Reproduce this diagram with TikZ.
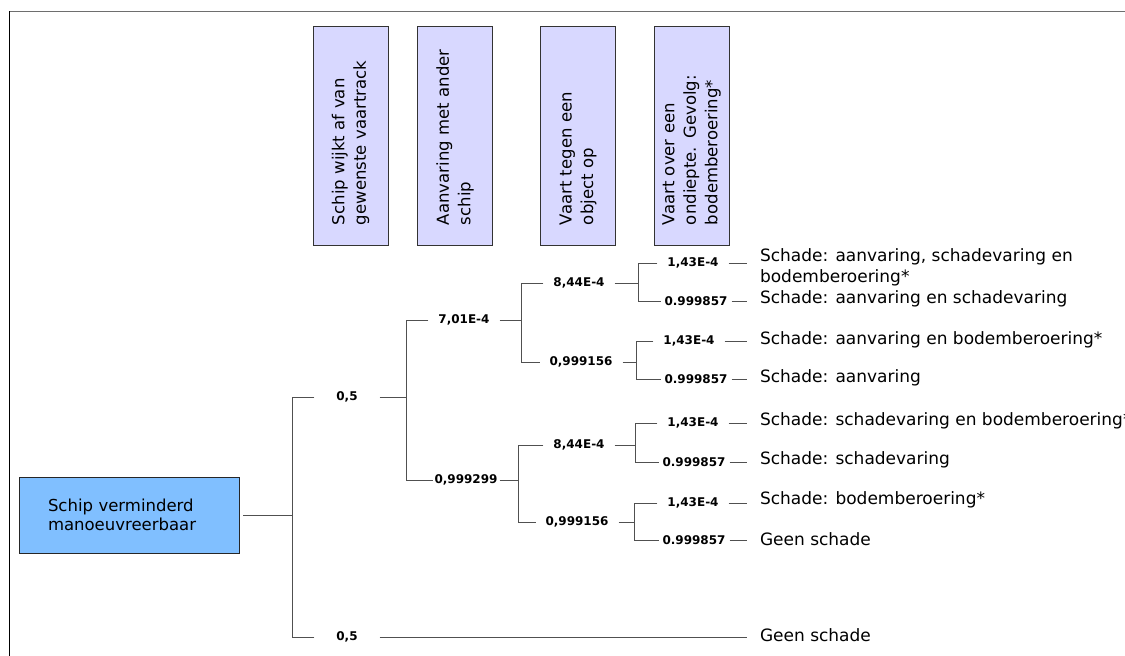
\documentclass[tikz,border=0pt]{standalone}
\usepackage{fontspec}
\setmainfont{DejaVu Sans}
\usepackage{tikz}
\usetikzlibrary{positioning,calc}
\definecolor{hdrLavender}{RGB}{216,216,255}
\definecolor{rootBlue}{RGB}{128,191,255}
\definecolor{treeGray}{RGB}{80,80,80}
\definecolor{frameGray}{RGB}{110,110,110}

\begin{document}
\begin{tikzpicture}[x=1pt, y=-1pt,
    every node/.style={inner sep=3pt, outer sep=0pt},
    hdr/.style={draw=black!80, fill=hdrLavender, rotate=90, align=left,
      font=\fontsize{16.5}{21.5}\selectfont, text width=179pt, inner xsep=20pt,
      minimum height=75pt},
    prob/.style={font=\fontsize{12}{14}\selectfont\bfseries, inner xsep=10pt},
    leaf/.style={font=\fontsize{17}{21}\selectfont, anchor=west, align=left,
      inner xsep=13pt},
    br/.style={treeGray, line width=1pt}
  ]
    \useasboundingbox (0,0) rectangle (1125,656);
    % frame
    \draw[frameGray, line width=1.5pt] (9,11.5) -- (1125,11.5);
    \draw[black, line width=1.2pt] (9.5,11) -- (9.5,656);
    % column headers
    \node[hdr] (h1) at (350.5,135.5) {Schip wijkt af van\\gewenste vaartrack};
    \node[hdr] (h2) at (455,135.5) {Aanvaring met ander\\schip};
    \node[hdr] (h3) at (578,135.5) {Vaart tegen een\\object op};
    \node[hdr] (h4) at (691.5,135.5) {Vaart over een\\ondiepte. Gevolg:\\bodemberoering*};
    % start event
    \node[draw=black!85, fill=rootBlue, minimum width=220pt, minimum height=76pt,
      text width=162pt, inner xsep=29pt, align=left,
      font=\fontsize{16.5}{19}\selectfont] (root) at (129,515) {Schip verminderd\\manoeuvreerbaar};
    % branch points
    \coordinate (s1) at (292,515);
    \coordinate (s2) at (406,397);
    \coordinate (s3) at (521,320);
    \coordinate (s4) at (638,283);
    \coordinate (s5) at (636,362);
    \coordinate (s6) at (518,480);
    \coordinate (s7) at (635,445);
    \coordinate (s8) at (634,522);
    % probabilities
    \node[prob, inner xsep=22pt] (a1) at (347,397) {0,5};
    \node[prob, inner xsep=22pt] (a2) at (347,637) {0,5};
    \node[prob] (b1) at (464,320) {7,01E-4};
    \node[prob, inner xsep=2pt] (b2) at (466,480) {0,999299};
    \node[prob] (c1) at (579,283) {8,44E-4};
    \node[prob] (c2) at (581,362) {0,999156};
    \node[prob] (c3) at (579,445) {8,44E-4};
    \node[prob] (c4) at (577,522) {0,999156};
    \node[prob] (d1) at (693,263) {1,43E-4};
    \node[prob, inner xsep=4pt] (d2) at (696,301) {0.999857};
    \node[prob] (d3) at (689,341) {1,43E-4};
    \node[prob, inner xsep=4pt] (d4) at (696,379) {0.999857};
    \node[prob] (d5) at (693,423) {1,43E-4};
    \node[prob, inner xsep=4pt] (d6) at (694,462) {0.999857};
    \node[prob] (d7) at (693,503) {1,43E-4};
    \node[prob, inner xsep=4pt] (d8) at (694,540) {0.999857};
    % outcomes
    \node[leaf, anchor=north west] (o1) at (747,246) {Schade: aanvaring, schadevaring en\\bodemberoering*};
    \node[leaf] (o2) at (747,299) {Schade: aanvaring en schadevaring};
    \node[leaf] (o3) at (747,340) {Schade: aanvaring en bodemberoering*};
    \node[leaf] (o4) at (747,378) {Schade: aanvaring};
    \node[leaf] (o5) at (747,421) {Schade: schadevaring en bodemberoering*};
    \node[leaf] (o6) at (747,460) {Schade: schadevaring};
    \node[leaf] (o7) at (747,500) {Schade: bodemberoering*};
    \node[leaf] (o8) at (747,539) {Geen schade};
    \node[leaf] (g) at (747,635) {Geen schade};
    % tree lines
    \draw[br, shorten <=4pt] (root.east) -- (s1);
    \draw[br] (a1.west) -| (s1);
    \draw[br] (a2.west) -| (s1);
    \draw[br] (a1.east) -- (s2);
    \draw[br] (b1.west) -| (s2);
    \draw[br] (b2.west) -| (s2);
    \draw[br] (b1.east) -- (s3);
    \draw[br] (c1.west) -| (s3);
    \draw[br] (c2.west) -| (s3);
    \draw[br] (b2.east) -- (s6);
    \draw[br] (c3.west) -| (s6);
    \draw[br] (c4.west) -| (s6);
    \draw[br] (c1.east) -- (s4);
    \draw[br] (d1.west) -| (s4);
    \draw[br] (d2.west) -| (s4);
    \draw[br] (c2.east) -- (s5);
    \draw[br] (d3.west) -| (s5);
    \draw[br] (d4.west) -| (s5);
    \draw[br] (c3.east) -- (s7);
    \draw[br] (d5.west) -| (s7);
    \draw[br] (d6.west) -| (s7);
    \draw[br] (c4.east) -- (s8);
    \draw[br] (d7.west) -| (s8);
    \draw[br] (d8.west) -| (s8);
    % to outcomes
    \draw[br] (d1.east) -- (d1.east -| o1.west);
    \draw[br] (d2.east) -- (d2.east -| o2.west);
    \draw[br] (d3.east) -- (d3.east -| o3.west);
    \draw[br] (d4.east) -- (d4.east -| o4.west);
    \draw[br] (d5.east) -- (d5.east -| o5.west);
    \draw[br] (d6.east) -- (d6.east -| o6.west);
    \draw[br] (d7.east) -- (d7.east -| o7.west);
    \draw[br] (d8.east) -- (d8.east -| o8.west);
    \draw[br] (a2.east) -- (a2.east -| g.west);
  \end{tikzpicture}
\end{document}
